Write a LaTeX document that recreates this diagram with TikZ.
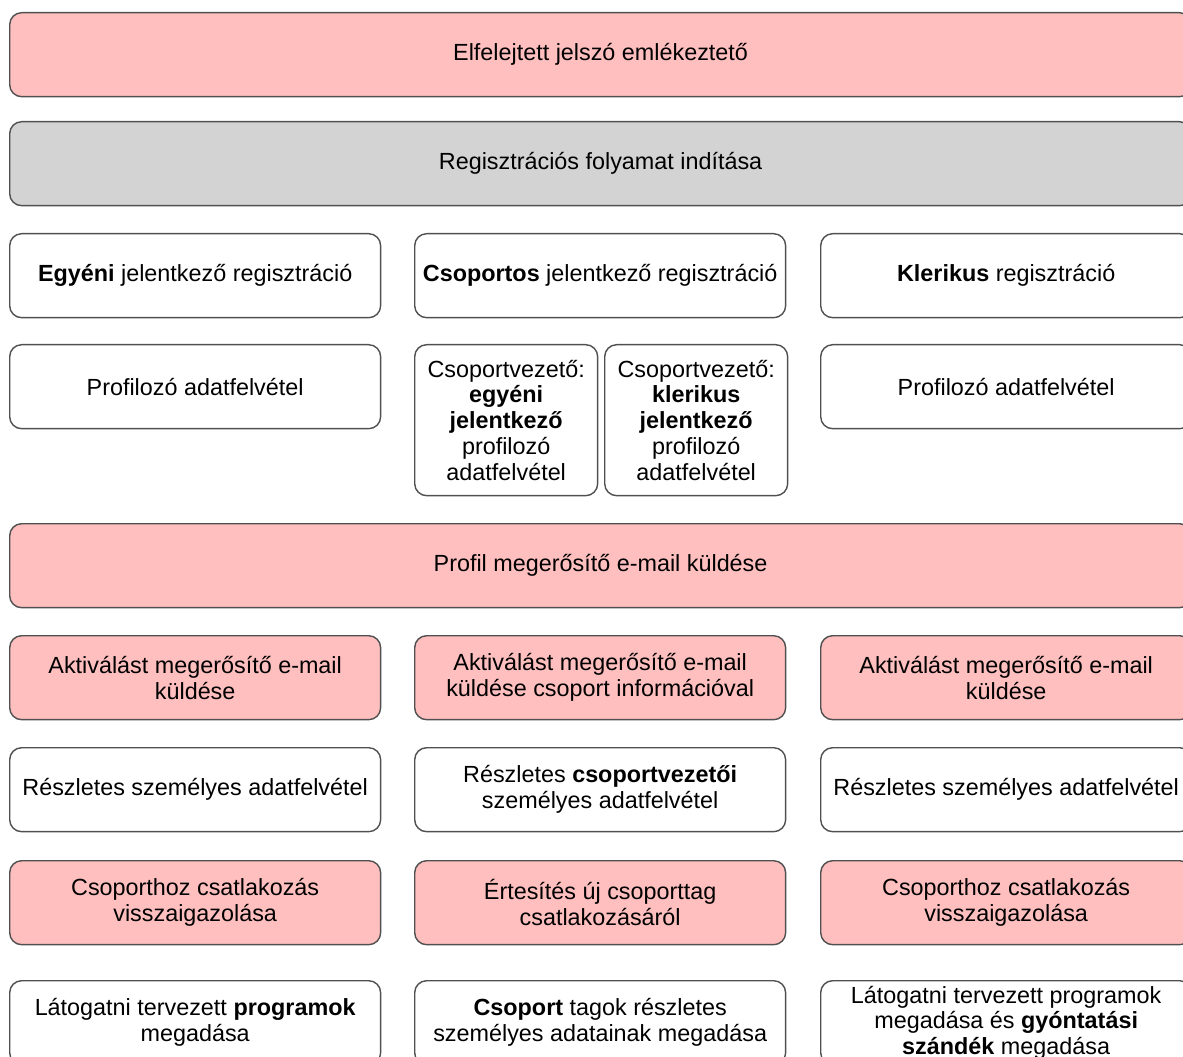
\documentclass[tikz,border=0pt]{standalone}
\usepackage{fontspec}
\setmainfont{Liberation Sans}
\usetikzlibrary{positioning}

\definecolor{roseFill}{HTML}{FFBFBF}
\definecolor{greyFill}{HTML}{D3D3D3}
\definecolor{edgeGrey}{HTML}{505050}

\tikzset{
	StepStyle/.style = {draw=edgeGrey,line width=0.8pt,rounded corners=6.8pt,anchor=north west,
		align=center,inner sep=2pt,font=\fontsize{13.3}{14.7}\selectfont},
	FullStep/.style = {StepStyle,minimum width=23.64cm,minimum height=1.68cm},
	ColStep/.style = {StepStyle,minimum width=7.42cm,minimum height=1.68cm},
	HalfStep/.style = {StepStyle,minimum width=3.66cm,minimum height=3.02cm},
	AlertStep/.style = {fill=roseFill},
	StartStep/.style = {fill=greyFill}
}

\begin{document}
\begin{tikzpicture}[x=0.02cm,y=-0.02cm]
		\useasboundingbox (0,0) rectangle (1183,1057);
		%\draw[help lines] (0,0) grid (1183,1057);
		\node[FullStep,AlertStep] (forgot) at (9,12) {Elfelejtett jelszó emlékeztető};
		\node[FullStep,StartStep] (regstart) at (9,121) {Regisztrációs folyamat indítása};
		% three kinds of applicant
		\node[ColStep] (solo) at (9,233) {\textbf{Egyéni} jelentkező regisztráció};
		\node[ColStep] (group) at (414,233) {\textbf{Csoportos} jelentkező regisztráció};
		\node[ColStep] (cleric) at (820,233) {\textbf{Klerikus} regisztráció};
		\node[ColStep] (soloprof) at (9,344) {Profilozó adatfelvétel};
		\node[HalfStep] (grpsolo) at (414,344) {Csoportvezető:\\\textbf{egyéni}\\\textbf{jelentkező}\\profilozó\\adatfelvétel};
		\node[HalfStep] (grpcleric) at (604,344) {Csoportvezető:\\\textbf{klerikus}\\\textbf{jelentkező}\\profilozó\\adatfelvétel};
		\node[ColStep] (clericprof) at (820,344) {Profilozó adatfelvétel};
		\node[FullStep,AlertStep] (confirm) at (9,523) {Profil megerősítő e-mail küldése};
		% after confirmation
		\node[ColStep,AlertStep] (actsolo) at (9,635) {Aktiválást megerősítő e-mail\\küldése};
		\node[ColStep,AlertStep] (actgroup) at (414,635) {Aktiválást megerősítő e-mail\\küldése csoport információval};
		\node[ColStep,AlertStep] (actcleric) at (820,635) {Aktiválást megerősítő e-mail\\küldése};
		\node[ColStep] (detsolo) at (9,747) {Részletes személyes adatfelvétel};
		\node[ColStep] (detgroup) at (414,747) {Részletes \textbf{csoportvezetői}\\személyes adatfelvétel};
		\node[ColStep] (detcleric) at (820,747) {Részletes személyes adatfelvétel};
		\node[ColStep,AlertStep] (joinsolo) at (9,860) {Csoporthoz csatlakozás\\visszaigazolása};
		\node[ColStep,AlertStep] (newmember) at (414,860) {Értesítés új csoporttag\\csatlakozásáról};
		\node[ColStep,AlertStep] (joincleric) at (820,860) {Csoporthoz csatlakozás\\visszaigazolása};
		\node[ColStep] (progsolo) at (9,980) {Látogatni tervezett \textbf{programok}\\megadása};
		\node[ColStep] (grpdata) at (414,980) {\textbf{Csoport} tagok részletes\\személyes adatainak megadása};
		\node[ColStep] (progcleric) at (820,980) {Látogatni tervezett programok\\megadása és \textbf{gyóntatási}\\\textbf{szándék} megadása};
	\end{tikzpicture}
\end{document}
